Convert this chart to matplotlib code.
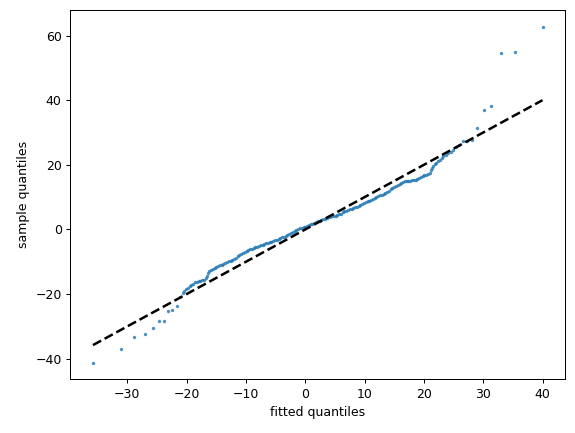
import numpy as np
import matplotlib
matplotlib.use('Agg')
import matplotlib.pyplot as plt

# quantiles
fitted = [
    -35.8, -31.1, -28.8, -27.1, -25.7, -24.7, -23.9, -23.1, -22.4, -21.7,
    -21.1, -20.7, -20.4, -20.1, -19.8, -19.5, -19.2, -18.9, -18.6, -18.3,
    -18.0, -17.7, -17.4, -17.1, -16.8, -16.6, -16.4, -16.2, -15.9, -15.6,
    -15.3, -15.0, -14.7, -14.4, -14.1, -13.8, -13.5, -13.2, -12.9, -12.6,
    -12.3, -12.0, -11.7, -11.4, -11.1, -10.8, -10.5, -10.2, -9.9, -9.6,
    -9.3, -9.0, -8.7, -8.4, -8.1, -7.8, -7.5, -7.2, -6.9, -6.6,
    -6.3, -6.0, -5.7, -5.4, -5.1, -4.8, -4.5, -4.2, -3.9, -3.6,
    -3.3, -3.0, -2.7, -2.4, -2.1, -1.8, -1.5, -1.2, -0.9, -0.6,
    -0.3, 0.0, 0.3, 0.6, 0.9, 1.2, 1.5, 1.8, 2.1, 2.4,
    2.7, 3.0, 3.3, 3.6, 3.9, 4.2, 4.5, 4.8, 5.1, 5.4,
    5.7, 6.0, 6.3, 6.6, 6.9, 7.2, 7.5, 7.8, 8.1, 8.4,
    8.7, 9.0, 9.3, 9.6, 9.9, 10.2, 10.5, 10.8, 11.1, 11.4,
    11.7, 12.0, 12.3, 12.6, 12.9, 13.2, 13.5, 13.8, 14.1, 14.4,
    14.7, 15.0, 15.3, 15.6, 15.9, 16.2, 16.5, 16.8, 17.1, 17.4,
    17.7, 18.0, 18.3, 18.6, 18.9, 19.2, 19.5, 19.8, 20.1, 20.4,
    20.7, 21.0, 21.2, 21.4, 21.6, 21.8, 22.1, 22.4, 22.7, 23.0,
    23.3, 23.7, 24.1, 24.5, 24.9, 25.4, 25.9, 26.6, 27.3, 28.1,
    28.9, 30.1, 31.3, 33.0, 35.3, 40.0,
]
sample = [
    -41.2, -36.9, -33.2, -32.5, -30.4, -28.2, -28.2, -25.2, -24.8, -23.6,
    -21.0, -19.8, -19.0, -18.5, -18.1, -17.6, -17.2, -16.8, -16.4, -16.2,
    -16.1, -16.0, -15.8, -15.5, -15.0, -14.4, -13.4, -12.9, -12.6, -12.3,
    -12.0, -11.7, -11.4, -11.1, -10.9, -10.6, -10.3, -10.1, -9.9, -9.7,
    -9.4, -9.2, -8.8, -8.2, -7.9, -7.6, -7.3, -7.1, -6.8, -6.5,
    -6.2, -6.0, -5.8, -5.5, -5.3, -5.1, -4.9, -4.7, -4.5, -4.3,
    -4.2, -4.0, -3.9, -3.6, -3.4, -3.2, -3.0, -2.6, -2.4, -2.2,
    -1.9, -1.6, -1.3, -1.0, -0.7, -0.5, -0.2, 0.0, 0.3, 0.5,
    0.7, 0.9, 1.2, 1.4, 1.6, 1.8, 2.1, 2.3, 2.5, 2.7,
    2.9, 3.1, 3.3, 3.5, 3.7, 3.8, 4.0, 4.1, 4.3, 4.5,
    4.7, 4.9, 5.3, 5.6, 5.8, 6.0, 6.2, 6.4, 6.6, 6.8,
    7.0, 7.3, 7.5, 7.8, 8.1, 8.4, 8.7, 8.9, 9.2, 9.5,
    9.7, 10.0, 10.3, 10.5, 10.8, 11.1, 11.4, 11.7, 12.0, 12.4,
    12.8, 13.2, 13.5, 13.9, 14.2, 14.5, 14.8, 14.9, 15.0, 15.0,
    15.1, 15.2, 15.3, 15.4, 15.6, 15.8, 16.2, 16.4, 16.7, 16.9,
    17.2, 17.6, 18.3, 19.0, 19.5, 20.1, 20.6, 21.2, 21.6, 22.2,
    22.6, 23.1, 23.6, 24.1, 24.7, 25.6, 26.1, 27.4, 27.4, 27.6,
    31.4, 37.0, 38.2, 54.6, 54.9, 62.6,
]

fitted = np.array(fitted)
sample = np.array(sample)

fig = plt.figure(figsize=(575 / 90, 433 / 90), dpi=90)
ax = fig.add_axes([0.1226, 0.124, 0.86, 0.852])

ax.scatter(fitted, sample, s=3, alpha=0.7)
lims = [fitted.min(), fitted.max()]
ax.plot(lims, lims, 'k--', lw=2)

ax.set_xlabel('fitted quantiles')
ax.set_ylabel('sample quantiles')

fig.savefig('out.png', dpi=90)
